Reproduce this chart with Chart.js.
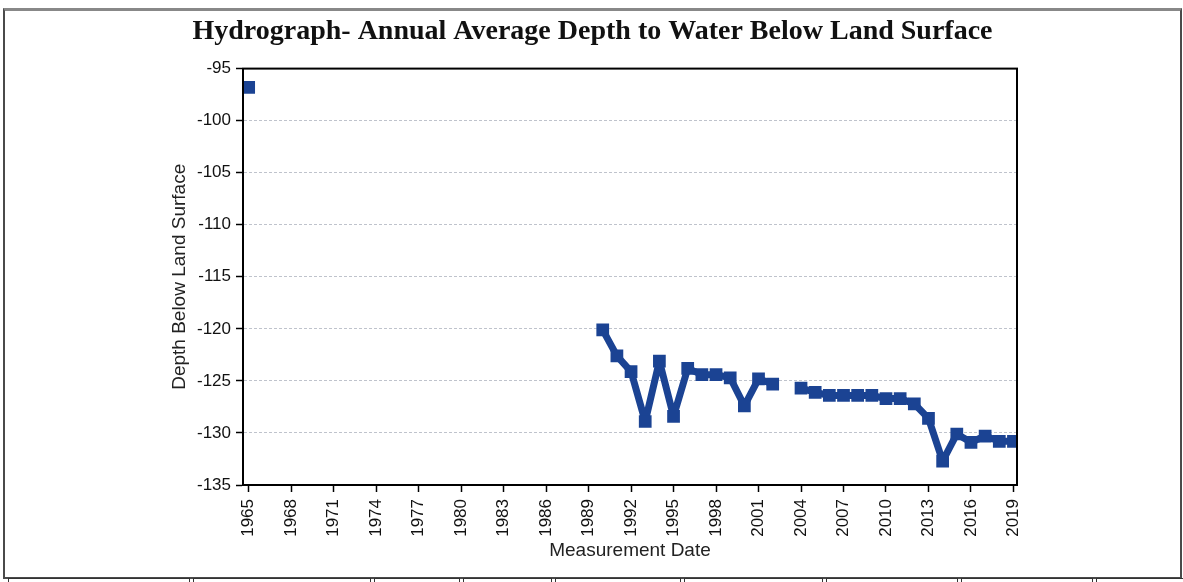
<!DOCTYPE html>
<html>
<head>
<meta charset="utf-8">
<script src="https://cdn.jsdelivr.net/npm/chart.js@4.4.1/dist/chart.umd.min.js"></script>
<style>
  html, body { margin: 0; padding: 0; background: #fff; }
  #wrap { position: relative; width: 1183px; height: 582px; overflow: hidden; }
  #frame { position: absolute; left: 3px; top: 8px; width: 1175px; height: 566px; border: 2px solid #4a4a4a; border-top: 3px solid #888; box-sizing: content-box; }
  .tab { position: absolute; top: 578px; height: 10px; border: 1px solid #333; border-bottom: none; }
  canvas { position: absolute; left: 0; top: 0; }
</style>
</head>
<body>
<div id="wrap">
  <div id="frame"></div>
  <div class="tab" style="left:8px;width:180px"></div>
  <div class="tab" style="left:193px;width:176px"></div>
  <div class="tab" style="left:374px;width:84px"></div>
  <div class="tab" style="left:463px;width:87px"></div>
  <div class="tab" style="left:555px;width:124px"></div>
  <div class="tab" style="left:684px;width:137px"></div>
  <div class="tab" style="left:826px;width:130px"></div>
  <div class="tab" style="left:961px;width:130px"></div>
  <div class="tab" style="left:1096px;width:90px"></div>
  <canvas id="c" width="1183" height="582"></canvas>
</div>
<script>
const years = [1965, 1990, 1991, 1992, 1993, 1994, 1995, 1996, 1997, 1998, 1999, 2000, 2001, 2002,
               2004, 2005, 2006, 2007, 2008, 2009, 2010, 2011, 2012, 2013, 2014, 2015, 2016, 2017, 2018, 2019];
const depths = [-96.8, -120.1, -122.6, -124.1, -128.9, -123.1, -128.4, -123.8, -124.4, -124.4, -124.7, -127.4, -124.8, -125.3,
                -125.7, -126.1, -126.4, -126.4, -126.4, -126.4, -126.7, -126.7, -127.2, -128.6, -132.7, -130.1, -130.9, -130.3, -130.8, -130.8];
const xTickYears = [1965, 1968, 1971, 1974, 1977, 1980, 1983, 1986, 1989, 1992, 1995, 1998, 2001, 2004, 2007, 2010, 2013, 2016, 2019];
const yTickValues = [-95, -100, -105, -110, -115, -120, -125, -130, -135];

const titleText = 'Hydrograph- Annual Average Depth to Water Below Land Surface';
const xTitle = 'Measurement Date';
const yTitle = 'Depth Below Land Surface';

// build points, breaking the line where years are missing
const points = [];
years.forEach((yr, i) => {
  if (i > 0 && yr - years[i - 1] > 1) points.push({ x: years[i - 1] + 1, y: null });
  points.push({ x: yr, y: depths[i] });
});

const frameBox = {
  id: 'frameBox',
  afterDraw(chart) {
    const { ctx, chartArea: a } = chart;
    ctx.save();
    ctx.strokeStyle = '#000';
    ctx.lineWidth = 2;
    ctx.strokeRect(a.left, a.top, a.right - a.left, a.bottom - a.top);
    ctx.restore();
  }
};

const blue = '#1b4393';

new Chart(document.getElementById('c'), {
  type: 'line',
  data: {
    datasets: [{
      data: points,
      borderColor: blue,
      backgroundColor: blue,
      borderWidth: 7,
      borderJoinStyle: 'bevel',
      tension: 0,
      spanGaps: false,
      pointStyle: 'rect',
      pointRadius: 9,
      pointBorderWidth: 0,
      pointBackgroundColor: blue,
      fill: false
    }]
  },
  options: {
    responsive: false,
    animation: false,
    devicePixelRatio: 1,
    layout: { padding: { left: 168, right: 166, top: 0, bottom: 12 } },
    plugins: {
      legend: { display: false },
      tooltip: { enabled: false },
      title: {
        display: true,
        text: titleText,
        color: '#111',
        font: { family: '"Liberation Serif", "DejaVu Serif", serif', size: 28, weight: 'bold' },
        padding: { top: 15, bottom: 20 }
      }
    },
    scales: {
      x: {
        type: 'linear',
        min: 1964.6,
        max: 2019.25,
        afterBuildTicks: s => { s.ticks = xTickYears.map(v => ({ value: v })); },
        afterFit: s => { s.height = 85; },
        ticks: {
          autoSkip: false,
          minRotation: 90,
          maxRotation: 90,
          padding: 7,
          color: '#111',
          font: { family: '"Liberation Sans", Arial, sans-serif', size: 17 },
          callback: v => String(v)
        },
        grid: { drawOnChartArea: false, drawTicks: true, tickLength: 7, tickColor: '#000', tickWidth: 1.5 },
        border: { display: true, color: '#000', width: 2 },
        title: {
          display: true,
          text: xTitle,
          color: '#222',
          font: { family: '"Liberation Sans", Arial, sans-serif', size: 19 },
          padding: { top: 0, bottom: 8 }
        }
      },
      y: {
        type: 'linear',
        min: -135,
        max: -95,
        afterBuildTicks: s => { s.ticks = yTickValues.map(v => ({ value: v })); },
        afterFit: s => { s.width = 75; },
        ticks: {
          padding: 5,
          color: '#111',
          font: { family: '"Liberation Sans", Arial, sans-serif', size: 17 }
        },
        grid: { color: '#bfc3cc', lineWidth: 1, tickLength: 7, tickColor: '#000', tickWidth: 1.5 },
        border: { display: true, color: '#000', width: 2, dash: [3, 2] },
        title: {
          display: true,
          text: yTitle,
          color: '#222',
          font: { family: '"Liberation Sans", Arial, sans-serif', size: 19 },
          padding: { top: 0, bottom: 0 }
        }
      }
    }
  },
  plugins: [frameBox]
});
</script>
</body>
</html>
